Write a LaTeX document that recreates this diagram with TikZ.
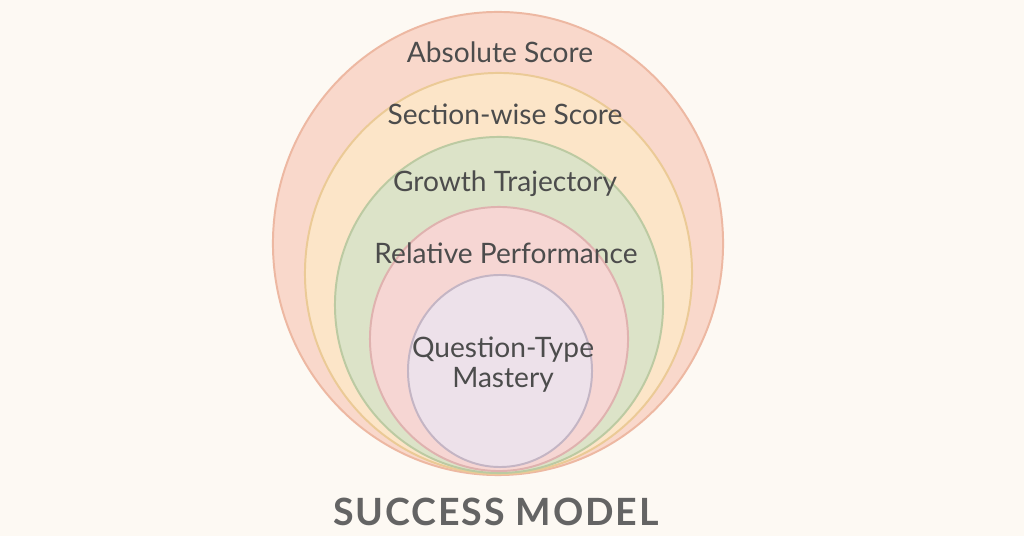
\documentclass[tikz,border=0pt]{standalone}
\usepackage{fontspec}
\setmainfont{Lato}
\newfontfamily\titlefont[LetterSpace=5]{Lato}
\definecolor{bgcream}{HTML}{FDF9F3}
\definecolor{labelgray}{HTML}{4C4C4C}
\definecolor{titlegray}{HTML}{646464}
\definecolor{absfill}{HTML}{F9D8CB}
\definecolor{absline}{HTML}{EDB8A2}
\definecolor{secfill}{HTML}{FCE5C8}
\definecolor{secline}{HTML}{EBCA96}
\definecolor{growfill}{HTML}{DCE3C8}
\definecolor{growline}{HTML}{BCCAA2}
\definecolor{relfill}{HTML}{F6D6D3}
\definecolor{relline}{HTML}{DFB2AF}
\definecolor{qtfill}{HTML}{EDE1EA}
\definecolor{qtline}{HTML}{C4B5C4}
\tikzset{
    ring/.style={line width=1.4pt},
    ringlabel/.style={text=labelgray,font=\fontsize{20}{21.3}\selectfont,align=center}
}
\begin{document}
\begin{tikzpicture}[x=0.025cm,y=-0.025cm]
        \fill[bgcream] (0,0) rectangle (1024,536);
        \useasboundingbox (0,0) rectangle (1024,536);
        \draw[ring, fill=absfill, draw=absline] (498,243.5) ellipse [x radius=5.625cm, y radius=5.7875cm];
        \draw[ring, fill=secfill, draw=secline] (498.5,273.5) ellipse [x radius=4.8375cm, y radius=5.0125cm];
        \draw[ring, fill=growfill, draw=growline] (499,305) ellipse [x radius=4.1cm, y radius=4.2cm];
        \draw[ring, fill=relfill, draw=relline] (499,339) ellipse [x radius=3.225cm, y radius=3.3cm];
        \draw[ring, fill=qtfill, draw=qtline] (500,371) ellipse [x radius=2.3cm, y radius=2.4cm];
        \draw (500,52) node[ringlabel] (absolute) {Absolute Score};
        \draw (505,114) node[ringlabel] (sectionwise) {Section-wise Score};
        \draw (505,184) node[ringlabel] (growth) {Growth Trajectory};
        \draw (506,253) node[ringlabel] (relative) {Relative Performance};
        \draw (503,365) node[ringlabel] (mastery) {Question-Type\\Mastery};
        \draw (496,512) node[text=titlegray,font=\titlefont\bfseries\fontsize{26.7}{30}\selectfont] (title) {SUCCESS MODEL};
    \end{tikzpicture}
\end{document}
